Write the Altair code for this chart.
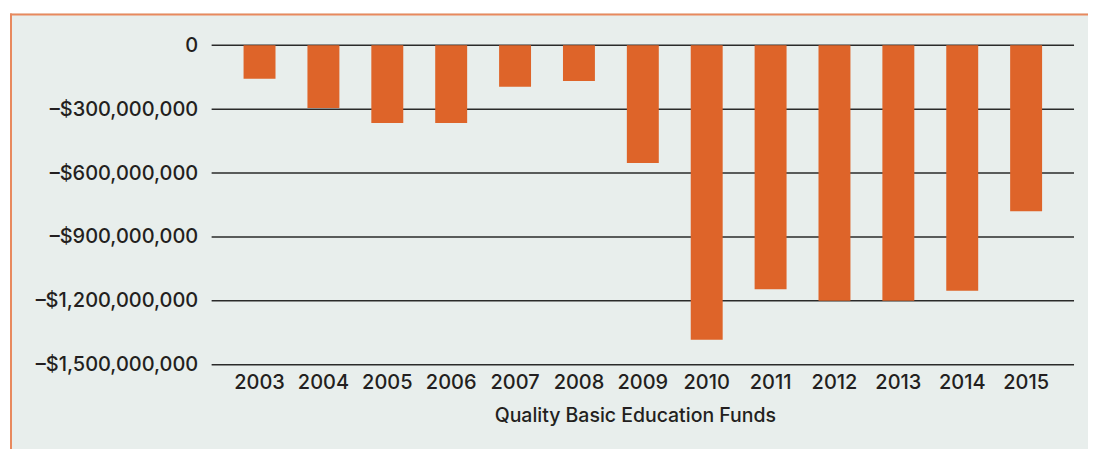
import altair as alt
import pandas as pd

years = ["2003", "2004", "2005", "2006", "2007", "2008", "2009",
         "2010", "2011", "2012", "2013", "2014", "2015"]
values = [-157e6, -294e6, -365e6, -365e6, -195e6, -168e6, -553e6,
          -1383e6, -1146e6, -1200e6, -1200e6, -1152e6, -779e6]
tick_values = [0, -300e6, -600e6, -900e6, -1200e6, -1500e6]

FONT = "Inter"
TEXT = "#231f20"
BAR = "#de6429"
BG = "#e8eeec"
BORDER = "#e8895e"
GRID = "#2a2a2a"

W, H = 864, 320

df = pd.DataFrame({"year": years, "value": values})
grid_df = pd.DataFrame({"v": tick_values})

base = alt.Chart(df)

panel = alt.Chart(alt.Data(values=[{"a": 1}])).mark_rect(
    fill=BG, strokeWidth=0
).encode(
    x=alt.value(-202), x2=alt.value(878),
    y=alt.value(-32), y2=alt.value(405),
)

top_border = alt.Chart(alt.Data(values=[{"a": 1}])).mark_rule(
    color=BORDER, strokeWidth=2
).encode(
    x=alt.value(-202), x2=alt.value(878), y=alt.value(-31),
)

left_border = alt.Chart(alt.Data(values=[{"a": 1}])).mark_rule(
    color=BORDER, strokeWidth=2
).encode(
    x=alt.value(-201), y=alt.value(-32), y2=alt.value(405),
)

grid = alt.Chart(grid_df).mark_rule(color=GRID, strokeWidth=1.5).encode(
    y=alt.Y("v:Q", scale=alt.Scale(domain=[-1500e6, 0], nice=False)),
)

label_expr = "datum.value == 0 ? '0' : '–$' + format(abs(datum.value), ',')"

bars = base.mark_bar(color=BAR).encode(
    x=alt.X(
        "year:N",
        sort=years,
        scale=alt.Scale(paddingInner=0.5, paddingOuter=0.5),
        axis=alt.Axis(
            title="Quality Basic Education Funds",
            labelAngle=0,
            labelFontSize=20,
            labelFontWeight=500,
            labelPadding=8,
            titleFontSize=19.5,
            titleFontWeight=500,
            titlePadding=14,
            titleX=424,
            ticks=False,
            domain=False,
            grid=False,
            zindex=1,
        ),
    ),
    y=alt.Y(
        "value:Q",
        scale=alt.Scale(domain=[-1500e6, 0], nice=False),
        axis=alt.Axis(
            title=None,
            values=tick_values,
            labelExpr=label_expr,
            labelFontSize=20,
            labelFontWeight=500,
            labelPadding=14,
            ticks=False,
            domain=False,
            grid=False,
            zindex=1,
        ),
    ),
)

chart = alt.layer(panel, top_border, left_border, grid, bars).properties(
    width=W, height=H,
    padding={"left": 1, "top": 4, "right": 0, "bottom": 0},
    background="white",
).configure_view(
    stroke=None
).configure_axis(
    labelFont=FONT, titleFont=FONT, labelColor=TEXT, titleColor=TEXT,
)

chart.save("out.html", embed_options={"renderer": "svg", "actions": False})
